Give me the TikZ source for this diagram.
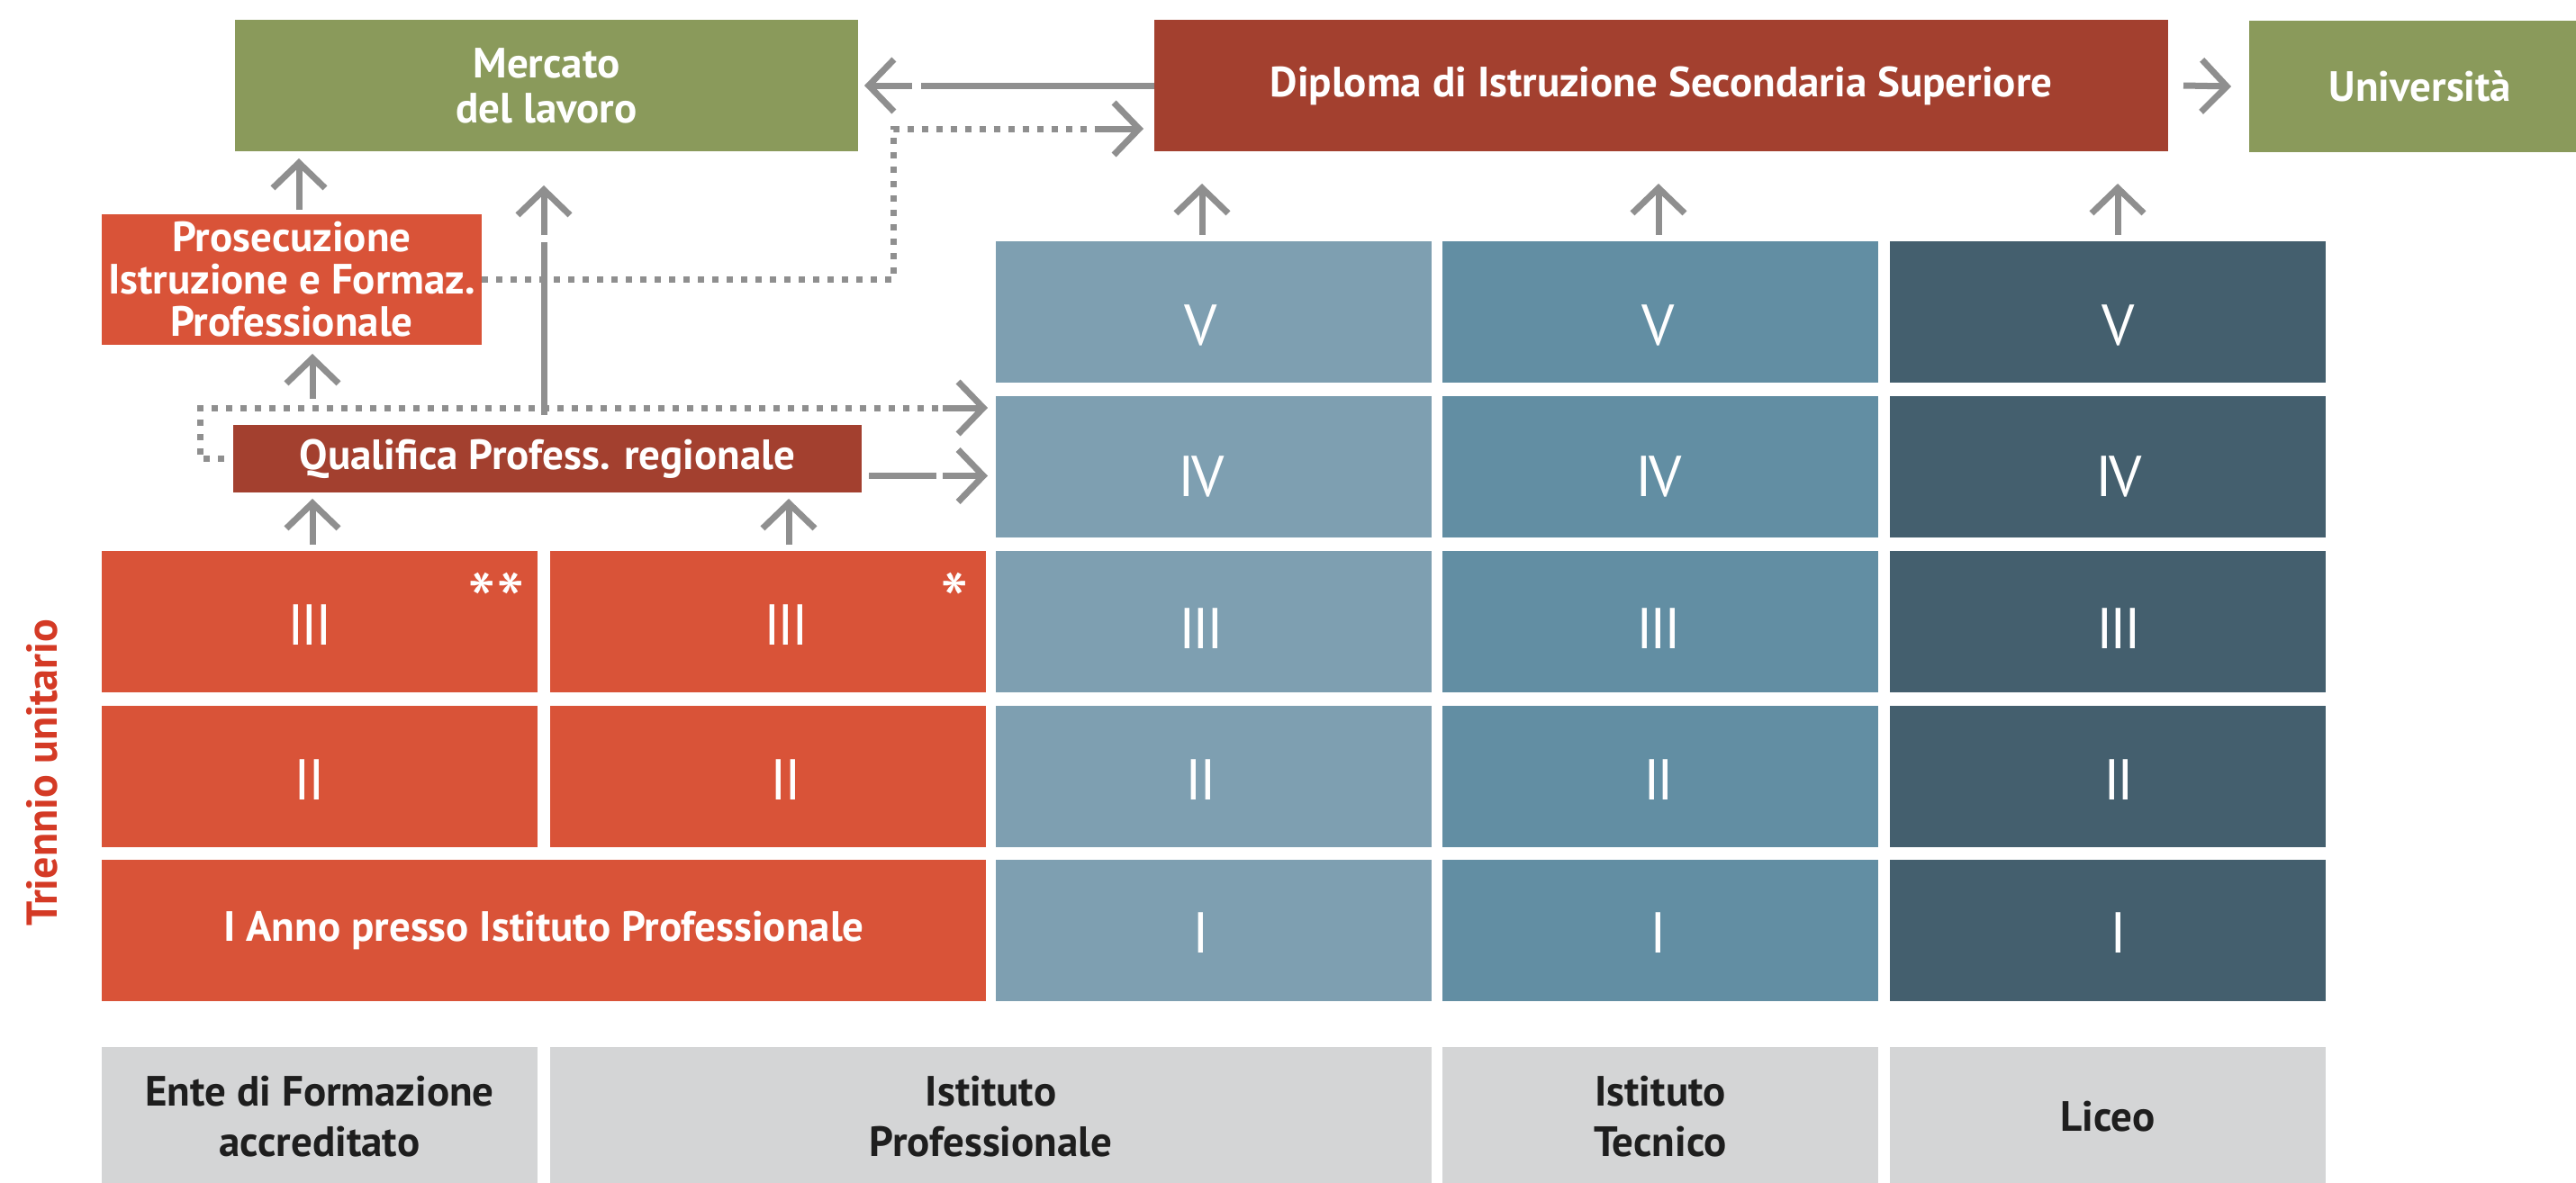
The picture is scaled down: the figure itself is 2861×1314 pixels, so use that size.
\documentclass[tikz,border=0pt]{standalone}
\usepackage{fontspec}
\setmainfont{PT Sans}
\newfontfamily\numfont{PT Sans}[LetterSpace=-5]
\usetikzlibrary{arrows.meta,calc}
\definecolor{cgreen}{HTML}{8A9A5B}
\definecolor{cdred}{HTML}{A3402F}
\definecolor{cred}{HTML}{D95338}
\definecolor{cblueA}{HTML}{7E9FB1}
\definecolor{cblueB}{HTML}{628EA3}
\definecolor{cblueC}{HTML}{445F6E}
\definecolor{cgray}{HTML}{D4D5D6}
\definecolor{carr}{HTML}{8F8F8F}
\definecolor{ctri}{HTML}{D43A25}
\definecolor{ctext}{HTML}{1E1E1E}
\begin{document}
\begin{tikzpicture}[x=1pt,y=-1pt,
  box/.style={inner sep=0pt, outer sep=0pt, text=white, align=center,
    font=\bfseries\fontsize{47}{50}\selectfont},
  cell/.style={inner sep=0pt, outer sep=0pt, minimum width=484pt, minimum height=157pt},
  graybox/.style={inner sep=0pt, outer sep=0pt, fill=cgray, minimum height=154pt,
    text=ctext, align=center, font=\bfseries\fontsize{47}{56}\selectfont},
  num/.style={inner sep=0pt, text=white, font=\numfont\fontsize{64}{64}\selectfont},
  star/.style={inner sep=0pt, text=white, font=\fontsize{90}{90}\selectfont},
  arr/.style={draw=carr, line width=7pt, -{Straight Barb[length=28pt,width=58pt]}},
  shaft/.style={draw=carr, line width=7pt},
  dots/.style={draw=carr, line width=7pt, dash pattern=on 7pt off 9pt},
]
\useasboundingbox (0,0) rectangle (2861,1314);
% top row
\node[box, fill=cgreen, minimum width=692pt, minimum height=146pt] (merc) at (607,95) {Mercato\\del lavoro};
\node[box, fill=cdred, minimum width=1126pt, minimum height=146pt] (dipl) at (1845,95) {Diploma di Istruzione Secondaria Superiore};
\node[box, fill=cgreen, minimum width=380pt, minimum height=146pt] (univ) at (2688,96) {Università};
% left boxes
\node[box, fill=cred, minimum width=422pt, minimum height=145pt, font=\bfseries\fontsize{47}{47}\selectfont] (pros) at (324,310.5) {Prosecuzione\\Istruzione e Formaz.\\Professionale};
\node[box, fill=cdred, minimum width=698pt, minimum height=75pt] (qual) at (608,509.5) {Qualifica Profess. regionale};
% red cells
\node[cell, fill=cred] (a3) at (355,690.5) {};
\node[cell, fill=cred] (a2) at (355,862.5) {};
\node[cell, fill=cred] (b3) at (853,690.5) {};
\node[cell, fill=cred] (b2) at (853,862.5) {};
\node[box, fill=cred, minimum width=982pt, minimum height=157pt] (ab1) at (604,1033.5) {I Anno presso Istituto Professionale};
% blue cells
\foreach \c/\x/\col in {c/1348/cblueA, d/1844/cblueB, e/2341/cblueC}{
  \node[cell, fill=\col] (\c5) at (\x,346.5) {};
  \node[cell, fill=\col] (\c4) at (\x,518.5) {};
  \node[cell, fill=\col] (\c3) at (\x,690.5) {};
  \node[cell, fill=\col] (\c2) at (\x,862.5) {};
  \node[cell, fill=\col] (\c1) at (\x,1033.5) {};
}
% numerals
\node[num] (na3) at (344,694) {III};
\node[num] (na2) at (344,866) {II};
\node[num] (nb3) at (873,694) {III};
\node[num] (nb2) at (873,866) {II};
\node[star] (sa) at (551,668) {**};
\node[star] (sb) at (1060,668) {*};
\foreach \c/\x in {c/1334, d/1842, e/2353}{
  \node[num] (n\c5) at (\x,361) {V};
  \node[num] (n\c4) at (\x,529) {IV};
  \node[num] (n\c3) at (\x,698) {III};
  \node[num] (n\c2) at (\x,866) {II};
  \node[num] (n\c1) at (\x,1036) {I};
}
% gray boxes
\node[graybox, minimum width=484pt] (gA) at (355,1240) {Ente di Formazione\\accreditato};
\node[graybox, minimum width=979pt] (gB) at (1100.5,1240) {Istituto\\Professionale};
\node[graybox, minimum width=484pt] (gC) at (1844,1240) {Istituto\\Tecnico};
\node[graybox, minimum width=484pt] (gD) at (2341,1240) {Liceo};
% side label
\node[rotate=90, inner sep=0pt, text=ctri, font=\bfseries\fontsize{48}{48}\selectfont] (tri) at (47,858) {Triennio unitario};
% arrows
\draw[shaft] (dipl.west) -- ($(merc.east)+(70,0)$);
\draw[arr] ($(merc.east)+(60,0)$) -- ($(merc.east)+(7,0)$);
\coordinate (p1) at (992,143);
\draw[dots] (pros.east) -| (p1) -- ($(dipl.west)+(-65,48)$);
\draw[arr] ($(dipl.west)+(-65,48)$) -- ($(dipl.west)+(-12,48)$);
\draw[arr] ($(dipl.east)+(17,0)$) -- ($(univ.west)+(-20,0)$);
\draw[arr] ($(pros.north)+(8,-5)$) -- ($(pros.north |- merc.south)+(8,8)$);
\draw[shaft] ($(qual.north)+(-4,-11)$) -- ($(merc.south)+(-3,101)$);
\draw[arr] ($(merc.south)+(-3,93)$) -- ($(merc.south)+(-3,38)$);
\draw[arr] ($(pros.south)+(23,60)$) -- ($(pros.south)+(23,10)$);
\draw[arr] ($(a3.north)+(-8,-7)$) -- ($(a3.north |- qual.south)+(-8,7)$);
\draw[arr] ($(b3.north)+(23,-7)$) -- ($(b3.north |- qual.south)+(23,7)$);
\draw[arr] ($(c5.north)+(-13,-7)$) -- ($(c5.north |- dipl.south)+(-13,36)$);
\draw[arr] ($(d5.north)+(-2,-7)$) -- ($(d5.north |- dipl.south)+(-2,36)$);
\draw[arr] ($(e5.north)+(11,-7)$) -- ($(e5.north |- dipl.south)+(11,36)$);
\draw[shaft] ($(qual.east)+(8,19)$) -- ($(c4.west)+(-66,10)$);
\draw[arr] ($(c4.west)+(-59,10)$) -- ($(c4.west)+(-9,10)$);
\coordinate (q1) at (222,453);
\draw[dots] ($(qual.west)+(-10,0)$) -| (q1) -- ($(c4.west)+(-59,-65.5)$);
\draw[arr] ($(c4.west)+(-59,-65.5)$) -- ($(c4.west)+(-9,-65.5)$);
\end{tikzpicture}
\end{document}
